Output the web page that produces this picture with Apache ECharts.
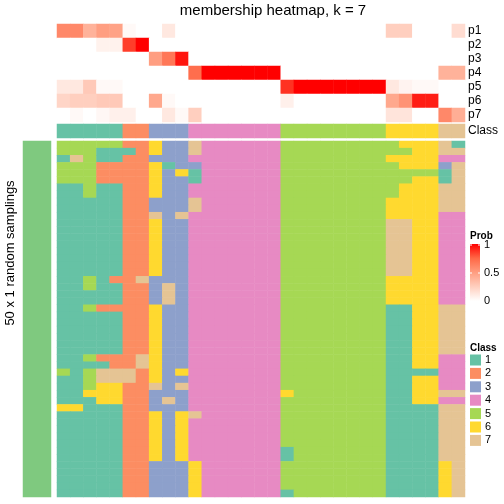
<!DOCTYPE html>
<html><head><meta charset="utf-8">
<script src="https://cdn.jsdelivr.net/npm/echarts@6/dist/echarts.min.js"></script>
<style>html,body{margin:0;padding:0;background:#fff}#c{width:504px;height:504px}</style>
</head><body><div id="c"></div>
<script>
// ---------- data ----------
const classColors = ['#66C2A5','#FC8D62','#8DA0CB','#E78AC3','#A6D854','#FFD92F','#E5C494'];
const classLabels = ['1','2','3','4','5','6','7'];
const probRowNames = ['p1','p2','p3','p4','p5','p6','p7'];
const probTickLabels = ['1','0.5','0'];
// membership probabilities per sample (31 samples)
const p1 = [0.6,0.6,0.4,0.5,0.48,0.03,0,0,0.12,0,0, 0,0,0,0,0,0, 0,0,0,0,0,0,0,0, 0.25,0.25,0,0, 0,0.18];
const p2 = [0,0,0,0.07,0.07,0.85,1,0,0,0,0, 0,0,0,0,0,0, 0,0,0,0,0,0,0,0, 0,0,0,0, 0,0];
const p3 = [0,0,0,0,0,0,0,0.5,0.68,0.95,0, 0,0,0,0,0,0, 0,0,0,0,0,0,0,0, 0,0,0,0, 0,0];
const p4 = [0,0,0,0,0,0,0,0,0,0,0.72, 1,1,1,1,1,1, 0,0,0,0,0,0,0,0, 0,0,0,0, 0.4,0.4];
const p5 = [0.12,0.12,0.28,0.03,0.03,0,0,0,0,0,0, 0,0,0,0,0,0, 0.88,1,1,1,1,1,1,1, 0.12,0.06,0.03,0.03, 0,0];
const p6 = [0.22,0.25,0.25,0.28,0.28,0,0,0.45,0.03,0,0, 0,0,0,0,0,0, 0.08,0,0,0,0,0,0,0, 0.45,0.55,0.93,0.93, 0,0];
const p7 = [0,0.03,0,0.04,0.08,0.08,0,0,0.12,0.03,0.25, 0,0,0,0,0,0, 0,0,0,0,0,0,0,0, 0.14,0.14,0,0, 0.6,0.42];
const classRow = [1,1,1,1,1,2,2,3,3,3,4,4,4,4,4,4,4,5,5,5,5,5,5,5,5,6,6,6,6,7,7];
// 50 random samplings x 31 samples (class per cell; spaces only group columns)
const samplingRows = [
 "55555 22 6 33 7 444444 55555555 56 66 71",
 "55511 12 6 33 7 444444 55555555 55 66 77",
 "17511 22 3 33 4 444444 55555555 66 66 44",
 "55522 22 6 13 3 444444 55555555 56 66 37",
 "55522 22 6 36 1 444444 55555555 55 55 17",
 "55522 22 6 33 1 444444 55555555 55 66 17",
 "11511 22 6 33 4 444444 55555555 56 66 77",
 "11511 22 6 33 4 444444 55555555 56 66 77",
 "11111 22 3 33 7 444444 55555555 66 66 77",
 "11111 22 3 33 7 444444 55555555 66 66 77",
 "11111 22 7 37 4 444444 55555555 66 66 44",
 "11111 22 6 33 4 444444 55555555 77 66 44",
 "11111 22 6 33 4 444444 55555555 77 66 44",
 "11111 22 6 33 4 444444 55555555 77 66 44",
 "11111 22 6 33 4 444444 55555555 77 66 44",
 "11111 22 6 33 4 444444 55555555 77 66 44",
 "11111 22 6 33 4 444444 55555555 77 66 44",
 "11111 22 6 33 4 444444 55555555 77 66 44",
 "11111 22 6 33 4 444444 55555555 77 66 44",
 "11512 27 3 33 4 444444 55555555 66 66 44",
 "11511 22 3 73 4 444444 55555555 66 66 44",
 "11111 22 3 73 4 444444 55555555 66 66 44",
 "11111 22 3 73 4 444444 55555555 66 66 44",
 "11522 22 6 33 4 444444 55555555 11 66 77",
 "11111 22 6 33 4 444444 55555555 11 66 77",
 "11111 22 6 33 4 444444 55555555 11 66 77",
 "11111 22 6 33 4 444444 55555555 11 66 77",
 "11111 22 6 33 4 444444 55555555 11 66 77",
 "11111 22 6 33 4 444444 55555555 11 66 77",
 "11111 22 6 33 4 444444 55555555 11 66 77",
 "11522 27 6 33 4 444444 55555555 11 66 44",
 "11112 27 6 33 4 444444 55555555 11 66 44",
 "51577 72 6 36 4 444444 55555555 11 11 44",
 "11577 72 6 33 4 444444 55555555 11 66 44",
 "11566 22 7 37 4 444444 55555555 11 66 44",
 "11666 22 3 33 4 444444 65555555 11 66 77",
 "11166 22 3 73 4 444444 55555555 11 66 44",
 "66111 22 3 33 4 444444 55555555 11 11 77",
 "11111 22 6 36 7 444444 55555555 11 11 77",
 "11111 22 6 36 4 444444 55555555 11 11 77",
 "11111 22 6 36 4 444444 55555555 11 11 77",
 "11111 22 6 36 4 444444 55555555 11 11 77",
 "11111 22 6 36 4 444444 55555555 11 11 77",
 "11111 22 6 36 4 444444 15555555 11 11 77",
 "11111 22 6 36 4 444444 15555555 11 11 77",
 "11111 22 3 33 6 444444 55555555 11 11 67",
 "11111 22 3 33 6 444444 55555555 11 11 67",
 "11111 22 3 33 6 444444 55555555 11 11 67",
 "11111 22 3 33 6 444444 55555555 11 11 67",
 "11111 22 3 33 6 444444 15555555 11 11 67"
];
const sideLabel = 'top 1000 rows';
const leftTitle = '50 x 1 random samplings';
const chartTitle = 'membership heatmap, k = 7';

// ---------- build ----------
const nCol = classRow.length;
const cols = Array.from({length:nCol},(_,i)=>String(i));
const probRows = [p1,p2,p3,p4,p5,p6,p7];
const probData = [];
probRows.forEach((r,ri)=>r.forEach((v,ci)=>probData.push([ci,ri,v])));
const classData = classRow.map((v,ci)=>[ci,0,v]);
const mainData = [];
samplingRows.forEach((s,ri)=>{
  const t = s.replace(/ /g,'');
  for(let ci=0;ci<nCol;ci++) mainData.push([ci,ri,+t[ci]]);
});
const rowIdx = samplingRows.map((_,i)=>String(i));

const probStops = ['#FFFFFF','#FFCFBF','#FF9E81','#FF6846','#FF0000'];
const FONT = 'Liberation Sans, Arial, sans-serif';

const chart = echarts.init(document.getElementById('c'), null, {renderer:'canvas'});
const hx = (gi) => ({gridIndex:gi,type:'category',data:cols,show:false});
const opt = {
  animation:false,
  grid:[
    {left:57, top:24, width:408, height:98},
    {left:57, top:124, width:408, height:14},
    {left:57, top:141, width:408, height:356},
    {left:23, top:141, width:28, height:356}
  ],
  xAxis:[hx(0),hx(1),hx(2),{gridIndex:3,type:'category',data:['0'],show:false}],
  yAxis:[
    {gridIndex:0,type:'category',data:probRowNames,inverse:true,position:'right',
     axisLine:{show:false},axisTick:{show:false},splitLine:{show:false},
     axisLabel:{interval:0,margin:3,color:'#000',fontSize:12,fontFamily:FONT}},
    {gridIndex:1,type:'category',data:['Class'],position:'right',
     axisLine:{show:false},axisTick:{show:false},
     axisLabel:{interval:0,margin:3,color:'#000',fontSize:12,fontFamily:FONT}},
    {gridIndex:2,type:'category',data:rowIdx,inverse:true,show:false},
    {gridIndex:3,type:'category',data:['0'],show:false}
  ],
  visualMap:[
    {type:'continuous',min:0,max:1,seriesIndex:0,show:false,inRange:{color:probStops}},
    {type:'piecewise',seriesIndex:[1,2],show:false,
     pieces:classColors.map((c,i)=>({value:i+1,color:c}))},
    {type:'piecewise',seriesIndex:3,show:false,pieces:[{value:1,color:'#7FC97F'}]}
  ],
  series:[
    {type:'heatmap',xAxisIndex:0,yAxisIndex:0,data:probData,itemStyle:{borderWidth:0},emphasis:{disabled:true}},
    {type:'heatmap',xAxisIndex:1,yAxisIndex:1,data:classData,itemStyle:{borderWidth:0},emphasis:{disabled:true}},
    {type:'heatmap',xAxisIndex:2,yAxisIndex:2,data:mainData,itemStyle:{borderWidth:0},emphasis:{disabled:true}},
    {type:'heatmap',xAxisIndex:3,yAxisIndex:3,data:[[0,0,1]],itemStyle:{borderWidth:0},emphasis:{disabled:true}}
  ],
  graphic:[]
};
const g = opt.graphic;
g.push({type:'text',x:273,y:3,style:{text:chartTitle,fill:'#000',font:'15px '+FONT,textAlign:'center',textVerticalAlign:'top'}});
g.push({type:'text',x:37,y:319,rotation:Math.PI/2,style:{text:sideLabel,fill:'#000',font:'10px '+FONT,textAlign:'center',textVerticalAlign:'middle'}});
g.push({type:'text',x:10,y:253,rotation:Math.PI/2,style:{text:leftTitle,fill:'#000',font:'13px '+FONT,textAlign:'center',textVerticalAlign:'middle'}});
// Prob legend
g.push({type:'text',x:470,y:236,style:{text:'Prob',fill:'#000',font:'bold 10px '+FONT,textVerticalAlign:'middle'}});
g.push({type:'rect',shape:{x:470,y:244,width:10,height:57},style:{fill:new echarts.graphic.LinearGradient(0,0,0,1,
  probStops.slice().reverse().map((c,i)=>({offset:i/(probStops.length-1),color:c})))}});
probTickLabels.forEach((t,i)=>{
  const y = 245 + i*28;
  g.push({type:'text',x:484,y:y,style:{text:t,fill:'#000',font:'11px '+FONT,textVerticalAlign:'middle'}});
  if(i<2){
    g.push({type:'line',shape:{x1:470,y1:y,x2:472,y2:y},style:{stroke:'#fff',lineWidth:1}});
    g.push({type:'line',shape:{x1:478,y1:y,x2:480,y2:y},style:{stroke:'#fff',lineWidth:1}});
  }
});
// Class legend
g.push({type:'text',x:470,y:348,style:{text:'Class',fill:'#000',font:'bold 10px '+FONT,textVerticalAlign:'middle'}});
classLabels.forEach((t,i)=>{
  const y = 360 + i*13.4;
  g.push({type:'rect',shape:{x:470,y:y-5.5,width:11,height:11},style:{fill:classColors[i]}});
  g.push({type:'text',x:485,y:y,style:{text:t,fill:'#000',font:'11px '+FONT,textVerticalAlign:'middle'}});
});
chart.setOption(opt);
</script></body></html>
